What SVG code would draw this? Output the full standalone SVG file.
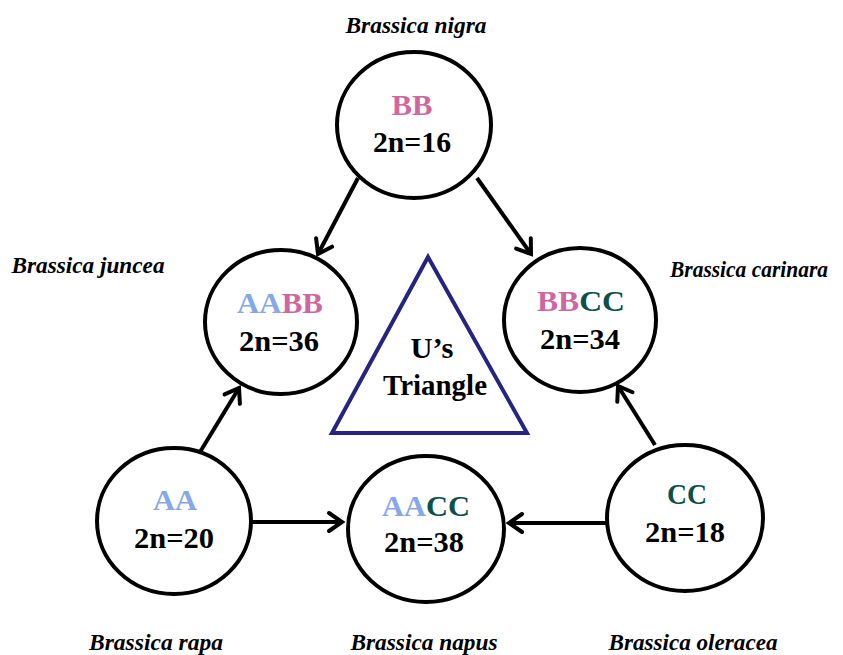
<svg xmlns="http://www.w3.org/2000/svg" width="843" height="655" viewBox="0 0 843 655">
<style>
.node ellipse{fill:#fff;stroke:#000;stroke-width:4}
.g{font-family:'Liberation Serif',Tinos,'Times New Roman',Times,serif;font-weight:700;font-size:30px;text-anchor:middle}
.sp{font-family:'Liberation Serif',Tinos,'Times New Roman',Times,serif;font-weight:700;font-style:italic;font-size:23px;text-anchor:middle;fill:#000}
.a{fill:#86a8e8}.b{fill:#d066a0}.c{fill:#0d4f4a}.k{fill:#000}
.conn line{stroke:#000;stroke-width:4;marker-end:url(#arr)}
</style>
<defs>
<marker id="arr" markerUnits="userSpaceOnUse" markerWidth="30" markerHeight="30" viewBox="-20 -15 30 30" refX="0" refY="0" orient="auto">
<path d="M-13,-9 L0,0 L-13,9" fill="none" stroke="#000" stroke-width="4" stroke-linecap="round"/>
</marker>
</defs>
<rect width="843" height="655" fill="#fff"/>
<g id="triangle">
<polygon points="428,257 332,433 527,433" fill="none" stroke="#25257f" stroke-width="4"/>
<text class="g k" x="432" y="358" textLength="43" lengthAdjust="spacingAndGlyphs">U’s</text>
<text class="g k" x="435" y="395" textLength="104" lengthAdjust="spacingAndGlyphs">Triangle</text>
</g>
<g class="conn" id="connectors">
<line x1="358" y1="178" x2="318" y2="254"/>
<line x1="477" y1="178" x2="531" y2="254"/>
<line x1="200" y1="452" x2="239" y2="388"/>
<line x1="655" y1="445" x2="618" y2="386"/>
<line x1="247" y1="522" x2="342" y2="522"/>
<line x1="608" y1="523" x2="509" y2="523"/>
</g>
<g class="node" id="nigra">
<ellipse cx="414" cy="125" rx="77" ry="73"/>
<text class="g b" x="412" y="115" textLength="41" lengthAdjust="spacingAndGlyphs">BB</text>
<text class="g k" x="412" y="152" textLength="78" lengthAdjust="spacingAndGlyphs">2n=16</text>
<text class="sp" x="416" y="33" textLength="141" lengthAdjust="spacingAndGlyphs">Brassica nigra</text>
</g>
<g class="node" id="juncea">
<ellipse cx="281" cy="322" rx="76" ry="72"/>
<text class="g" x="280" y="313" textLength="86" lengthAdjust="spacingAndGlyphs"><tspan class="a">AA</tspan><tspan class="b">BB</tspan></text>
<text class="g k" x="279" y="351" textLength="80" lengthAdjust="spacingAndGlyphs">2n=36</text>
<text class="sp" x="88" y="273" textLength="153" lengthAdjust="spacingAndGlyphs">Brassica juncea</text>
</g>
<g class="node" id="carinara">
<ellipse cx="580" cy="320" rx="76" ry="72"/>
<text class="g" x="581" y="311" textLength="88" lengthAdjust="spacingAndGlyphs"><tspan class="b">BB</tspan><tspan class="c">CC</tspan></text>
<text class="g k" x="580" y="349" textLength="80" lengthAdjust="spacingAndGlyphs">2n=34</text>
<text class="sp" x="749" y="277" textLength="158" lengthAdjust="spacingAndGlyphs">Brassica carinara</text>
</g>
<g class="node" id="rapa">
<ellipse cx="174" cy="521" rx="77" ry="73"/>
<text class="g a" x="175" y="510" textLength="44" lengthAdjust="spacingAndGlyphs">AA</text>
<text class="g k" x="174" y="548" textLength="80" lengthAdjust="spacingAndGlyphs">2n=20</text>
<text class="sp" x="156" y="650" textLength="134" lengthAdjust="spacingAndGlyphs">Brassica rapa</text>
</g>
<g class="node" id="napus">
<ellipse cx="426" cy="529" rx="78" ry="73"/>
<text class="g" x="426" y="516" textLength="88" lengthAdjust="spacingAndGlyphs"><tspan class="a">AA</tspan><tspan class="c">CC</tspan></text>
<text class="g k" x="424" y="552" textLength="80" lengthAdjust="spacingAndGlyphs">2n=38</text>
<text class="sp" x="424" y="650" textLength="147" lengthAdjust="spacingAndGlyphs">Brassica napus</text>
</g>
<g class="node" id="oleracea">
<ellipse cx="685" cy="518" rx="78" ry="73"/>
<text class="g c" x="687" y="504" textLength="40" lengthAdjust="spacingAndGlyphs">CC</text>
<text class="g k" x="685" y="542" textLength="80" lengthAdjust="spacingAndGlyphs">2n=18</text>
<text class="sp" x="693" y="650" textLength="169" lengthAdjust="spacingAndGlyphs">Brassica oleracea</text>
</g>
</svg>
